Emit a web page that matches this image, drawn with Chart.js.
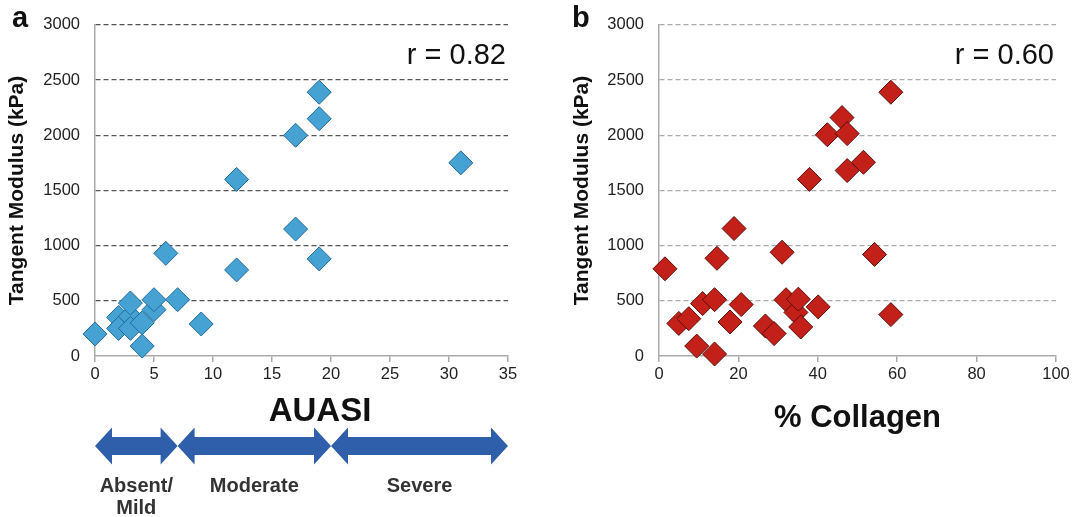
<!DOCTYPE html>
<html>
<head>
<meta charset="utf-8">
<script src="https://cdn.jsdelivr.net/npm/chart.js@4.4.1/dist/chart.umd.min.js"></script>
<style>
  html, body { margin: 0; padding: 0; background: #fff; }
  #wrap { position: relative; width: 1079px; height: 517px; overflow: hidden; }
  canvas { position: absolute; top: 0; }
  #chartA { left: 0; }
  #chartB { left: 560px; }
</style>
</head>
<body>
<div id="wrap">
  <canvas id="chartA" width="540" height="517"></canvas>
  <canvas id="chartB" width="519" height="517"></canvas>
</div>
<script>
// Panel a: AUASI score vs tangent modulus
const auasiScore   = [0, 2, 2, 3, 3, 3, 4, 4, 5, 5, 7, 6, 9, 12, 12, 17, 17, 19, 19, 19, 31];
const auasiModulus = [200, 350, 250, 360, 250, 480, 300, 90, 420, 510, 510, 930, 290, 1600, 780, 2000, 1150, 2390, 2150, 880, 1750];

// Panel b: % collagen vs tangent modulus
const collagenPct      = [1.5, 5, 7.5, 9.5, 11, 14, 14, 14.6, 18.9, 17.9, 20.7, 26.8, 29, 31, 32, 34.5, 35.1, 35.7, 40.1, 37.9, 42.4, 46.1, 47.4, 47.4, 51.5, 54.3, 58.4, 58.4];
const collagenModulus  = [790, 295, 338, 90, 475, 510, 18, 885, 1155, 308, 466, 272, 203, 940, 510, 395, 515, 263, 445, 1600, 2005, 2160, 2015, 1680, 1755, 920, 2390, 375];

// Tick values
const modulusTicks  = [0, 500, 1000, 1500, 2000, 2500, 3000];
const auasiTicks    = [0, 5, 10, 15, 20, 25, 30, 35];
const collagenTicks = [0, 20, 40, 60, 80, 100];

// Correlation coefficients
const rValues = [0.82, 0.60];

// AUASI severity bands (edges in score units) and their names
const severityEdges  = [0, 7, 20, 35];
const severityLabels = [['Absent/', 'Mild'], ['Moderate'], ['Severe']];

const FONT = "'Liberation Sans', Arial, Helvetica, sans-serif";

function toPoints(xs, ys) { return xs.map((x, i) => ({ x: x, y: ys[i] })); }
function fixedTicks(list) { return scale => { scale.ticks = list.map(v => ({ value: v })); }; }

// Panel letter and correlation text
function annotate(letter, r) {
  return {
    id: 'annotate' + letter,
    afterDraw(chart) {
      const ctx = chart.ctx, area = chart.chartArea;
      ctx.save();
      ctx.fillStyle = '#111';
      ctx.textBaseline = 'alphabetic';
      ctx.font = 'bold 29px ' + FONT;
      ctx.textAlign = 'left';
      ctx.fillText(letter, 12, 27);
      ctx.font = '29px ' + FONT;
      ctx.textAlign = 'right';
      ctx.fillText('r = ' + r.toFixed(2), area.right - 2, area.top + 39);
      ctx.restore();
    }
  };
}

// Severity arrows beneath the AUASI axis
const severityArrows = {
  id: 'severityArrows',
  afterDraw(chart) {
    const ctx = chart.ctx, xs = chart.scales.x;
    const cy = 446, headH = 18.5, shaftH = 9, headL = 17;
    ctx.save();
    ctx.fillStyle = '#111';
    ctx.font = 'bold 33px ' + FONT;
    ctx.textAlign = 'center';
    ctx.textBaseline = 'alphabetic';
    ctx.fillText('AUASI', 320, 421);

    for (let i = 0; i < severityLabels.length; i++) {
      const xa = xs.getPixelForValue(severityEdges[i]);
      const xb = xs.getPixelForValue(severityEdges[i + 1]);
      ctx.beginPath();
      ctx.moveTo(xa, cy);
      ctx.lineTo(xa + headL, cy - headH);
      ctx.lineTo(xa + headL, cy - shaftH);
      ctx.lineTo(xb - headL, cy - shaftH);
      ctx.lineTo(xb - headL, cy - headH);
      ctx.lineTo(xb, cy);
      ctx.lineTo(xb - headL, cy + headH);
      ctx.lineTo(xb - headL, cy + shaftH);
      ctx.lineTo(xa + headL, cy + shaftH);
      ctx.lineTo(xa + headL, cy + headH);
      ctx.closePath();
      ctx.fillStyle = '#2f5eab';
      ctx.fill();

      ctx.fillStyle = '#333';
      ctx.font = 'bold 20px ' + FONT;
      const mid = (xa + xb) / 2;
      severityLabels[i].forEach((line, k) => ctx.fillText(line, mid, 492 + k * 22));
    }
    ctx.restore();
  }
};

function makeChart(id, opts) {
  return new Chart(document.getElementById(id), {
    type: 'scatter',
    data: {
      datasets: [{
        data: toPoints(opts.xs, opts.ys),
        pointStyle: 'rectRot',
        pointRadius: 12,
        pointHoverRadius: 12,
        backgroundColor: opts.fill,
        borderColor: opts.edge,
        borderWidth: 1,
        clip: false
      }]
    },
    options: {
      responsive: false,
      animation: false,
      events: [],
      layout: { padding: opts.padding },
      plugins: { legend: { display: false }, tooltip: { enabled: false } },
      scales: {
        x: {
          type: 'linear',
          min: opts.xTicks[0],
          max: opts.xTicks[opts.xTicks.length - 1],
          afterBuildTicks: fixedTicks(opts.xTicks),
          afterFit: s => { s.height = 161; },
          grid: { drawOnChartArea: false, drawTicks: true, tickLength: 6, color: '#aaa', lineWidth: 1.5 },
          border: { display: true, color: '#aaa', width: 1.5 },
          ticks: { color: '#222', font: { family: FONT, size: 16.5 }, padding: 3, maxRotation: 0, callback: v => String(v) },
          title: opts.xTitle ? {
            display: true, text: opts.xTitle, color: '#111',
            font: { family: FONT, size: 31, weight: 'bold' },
            padding: { top: 0, bottom: 80 }
          } : { display: false }
        },
        y: {
          type: 'linear',
          min: 0,
          max: 3000,
          afterBuildTicks: fixedTicks(modulusTicks),
          afterFit: s => { s.width = opts.yWidth; },
          grid: {
            drawTicks: false,
            color: ctx => ctx.tick && ctx.tick.value === 0 ? 'rgba(0,0,0,0)' : opts.gridColor,
            lineWidth: 1.2
          },
          border: { display: true, color: '#aaa', width: 1.5, dash: [5, 3] },
          ticks: { color: '#222', font: { family: FONT, size: 16.5 }, padding: 15, callback: v => String(v) },
          title: {
            display: true, text: 'Tangent Modulus (kPa)', color: '#111',
            font: { family: FONT, size: 21, weight: 'bold' },
            padding: { top: opts.yTitlePad, bottom: 0 }
          }
        }
      }
    },
    plugins: opts.plugins
  });
}

makeChart('chartA', {
  xs: auasiScore, ys: auasiModulus,
  fill: '#47a2d4', edge: '#21699a',
  xTicks: auasiTicks, xTitle: null,
  gridColor: '#555',
  yWidth: 95, yTitlePad: 5,
  padding: { left: 0, right: 32, top: 18, bottom: 0 },
  plugins: [annotate('a', rValues[0]), severityArrows]
});

makeChart('chartB', {
  xs: collagenPct, ys: collagenModulus,
  fill: '#c4201a', edge: '#5c0d09',
  xTicks: collagenTicks, xTitle: '% Collagen',
  gridColor: '#aaa',
  yWidth: 99, yTitlePad: 10,
  padding: { left: 0, right: 23, top: 21, bottom: 0 },
  plugins: [annotate('b', rValues[1])]
});
</script>
</body>
</html>
